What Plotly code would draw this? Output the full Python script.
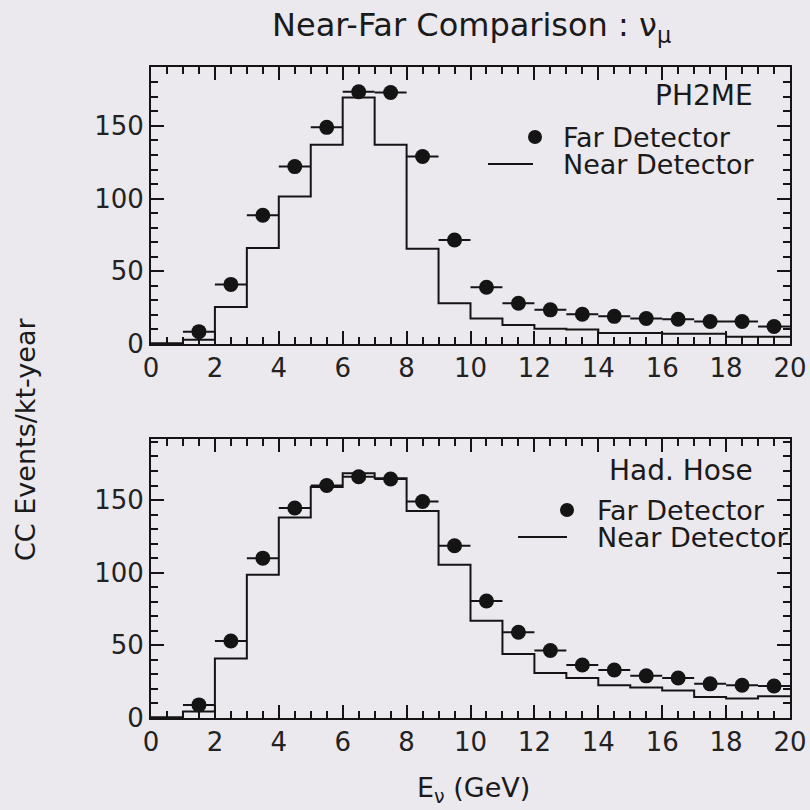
import plotly.graph_objects as go

# ---- data ---------------------------------------------------------------
# energy bins (GeV): 1 GeV wide, 0-20
bin_edges = list(range(0, 21))
far_centers = [1.5, 2.5, 3.5, 4.5, 5.5, 6.5, 7.5, 8.5, 9.5, 10.5,
               11.5, 12.5, 13.5, 14.5, 15.5, 16.5, 17.5, 18.5, 19.5]

# PH2ME beam
ph2me_far = [8.5, 41, 88.5, 122, 149, 173.5, 173, 129, 71.5, 39,
             28, 23.5, 20.5, 19, 17.5, 17, 15.5, 15.5, 12]
ph2me_near = [0.5, 3, 25.5, 66, 101.5, 137, 169.5, 137, 65.5, 28,
              17.5, 13, 10.5, 10, 7.5, 7.5, 7, 7, 5, 5]

# Hadron hose beam
hose_far = [9, 53, 110, 144.5, 160, 166, 164.5, 149, 118.5, 80.5,
            59, 46.5, 36.5, 33, 29, 27.5, 23.5, 22.5, 22]
hose_near = [0.5, 4.5, 41, 98.5, 138, 159, 168.5, 165, 142.5, 105.5,
             67, 44, 31, 27.5, 22.5, 21, 19, 14.5, 13.5, 15]

x_major, x_minor = 2, 0.5
y_major, y_minor = 50, 10

panels = [
    dict(label="PH2ME", far=ph2me_far, near=ph2me_near, yrange=[0, 190.5]),
    dict(label="Had. Hose", far=hose_far, near=hose_near, yrange=[0, 192]),
]

# ---- styling ------------------------------------------------------------
W = H = 810
BG = "#ebe8ee"
INK = "#141414"
TXT = "#1a1a1a"
FONT = "DejaVu Sans"


def px(x):
    return x / W


def py(y):
    return 1 - y / H


# panel frames in pixels (left, right, top, bottom)
frames = [(151, 790, 67, 344), (151, 790, 439, 718)]

fig = go.Figure()

for i, (p, fr) in enumerate(zip(panels, frames), start=1):
    l, r, t, b = fr
    sfx = "" if i == 1 else str(i)

    # near detector: step histogram over bin edges
    fig.add_trace(go.Scatter(
        x=bin_edges, y=p["near"] + [p["near"][-1]],
        mode="lines", line=dict(shape="hv", color=INK, width=2),
        xaxis="x" + sfx, yaxis="y" + sfx,
        showlegend=False, hoverinfo="skip",
    ))
    # far detector: points with bin-width error bars
    fig.add_trace(go.Scatter(
        x=far_centers, y=p["far"], mode="markers",
        marker=dict(symbol="circle", size=15, color=INK),
        error_x=dict(type="constant", value=0.5, width=0,
                     thickness=2, color=INK),
        xaxis="x" + sfx, yaxis="y" + sfx,
        showlegend=False, cliponaxis=False,
    ))

    common = dict(
        showline=True, linecolor=INK, linewidth=2, mirror="ticks",
        ticks="inside", tickcolor=INK, tickwidth=2, ticklen=13,
        showgrid=False, zeroline=False, automargin=False,
        tickmode="linear", tick0=0,
        tickfont=dict(family=FONT, size=26, color="#222"),
    )
    fig.update_layout({
        "xaxis" + sfx: dict(common, domain=[px(l), px(r)], range=[0, 20],
                            dtick=x_major, anchor="y" + sfx,
                            minor=dict(dtick=x_minor, ticks="inside",
                                       ticklen=7, tickwidth=1.5,
                                       tickcolor=INK)),
        "yaxis" + sfx: dict(common, domain=[py(b), py(t)], range=p["yrange"],
                            dtick=y_major, anchor="x" + sfx,
                            minor=dict(dtick=y_minor, ticks="inside",
                                       ticklen=7, tickwidth=1.5,
                                       tickcolor=INK)),
    })

annotations = [
    dict(text="Near-Far Comparison : ν<sub>μ</sub>", x=px(471), y=py(27),
         font=dict(family=FONT, size=32, color=TXT)),
    dict(text="E<sub>ν</sub> (GeV)", x=px(474), y=py(789),
         font=dict(family=FONT, size=27, color=TXT)),
    dict(text="CC Events/kt-year", x=px(25), y=py(440), textangle=-90,
         font=dict(family=FONT, size=27, color=TXT)),
]

# legend blocks drawn inside each panel
legend_specs = [
    dict(label="PH2ME", label_xy=(755, 96), dot=(535, 137),
         line=(488, 533, 164), text_x=561, far_y=137, near_y=164),
    dict(label="Had. Hose", label_xy=(755, 470), dot=(567, 510),
         line=(518, 567, 537), text_x=595, far_y=510, near_y=537),
]

shapes = []
for s in legend_specs:
    annotations.append(dict(text=s["label"], x=px(s["label_xy"][0]),
                            y=py(s["label_xy"][1]), xanchor="right",
                            font=dict(family=FONT, size=28, color=TXT)))
    annotations.append(dict(text="Far Detector", x=px(s["text_x"]),
                            y=py(s["far_y"]), xanchor="left",
                            font=dict(family=FONT, size=27, color=TXT)))
    annotations.append(dict(text="Near Detector", x=px(s["text_x"]),
                            y=py(s["near_y"]), xanchor="left",
                            font=dict(family=FONT, size=27, color=TXT)))
    cx, cy = s["dot"]
    shapes.append(dict(type="circle", xref="paper", yref="paper",
                       x0=px(cx - 7), x1=px(cx + 7), y0=py(cy + 7), y1=py(cy - 7),
                       fillcolor=INK, line=dict(color=INK, width=0)))
    x0, x1, ly = s["line"]
    shapes.append(dict(type="line", xref="paper", yref="paper",
                       x0=px(x0), x1=px(x1), y0=py(ly), y1=py(ly),
                       line=dict(color=INK, width=2)))

for a in annotations:
    a.update(xref="paper", yref="paper", showarrow=False)
    a.setdefault("xanchor", "center")
    a.setdefault("yanchor", "middle")

fig.update_layout(
    width=W, height=H, margin=dict(l=0, r=0, t=0, b=0),
    paper_bgcolor=BG, plot_bgcolor=BG,
    annotations=annotations, shapes=shapes, showlegend=False,
)

fig.write_html("out.html")
